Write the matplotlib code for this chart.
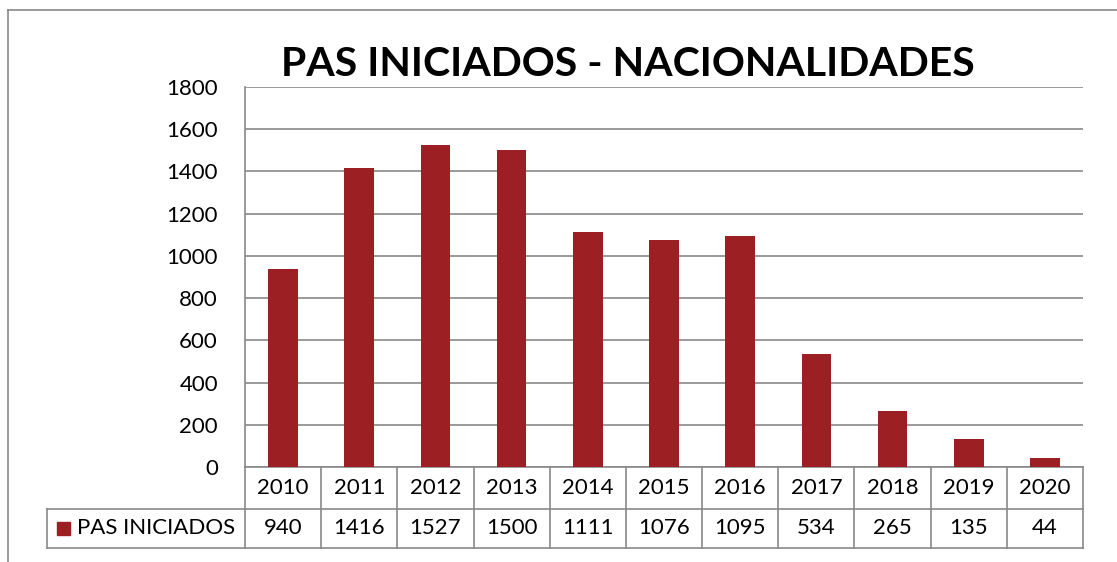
import matplotlib.pyplot as plt
from matplotlib.patches import Rectangle
from matplotlib.lines import Line2D

anos = ['2010', '2011', '2012', '2013', '2014', '2015', '2016', '2017', '2018', '2019', '2020']
pas_iniciados = [940, 1416, 1527, 1500, 1111, 1076, 1095, 534, 265, 135, 44]
serie = 'PAS INICIADOS'
titulo = 'PAS INICIADOS - NACIONALIDADES'

rojo = '#9C1F24'
gris = '#898989'
plt.rcParams['font.family'] = ['Lato', 'DejaVu Sans']

fig = plt.figure(figsize=(11.17, 5.62), dpi=100)
W, H = 1117, 562

def fx(px):
    return px / W

def fy(py):
    return 1 - py / H

# marco exterior (solo arriba e izquierda visibles)
fig.add_artist(Line2D([fx(8), 1], [fy(10), fy(10)], color=gris, lw=1.2))
fig.add_artist(Line2D([fx(8), fx(8)], [fy(10), 0], color=gris, lw=1.2))

x0, x1, y0, y1 = 245, 1083, 87, 467
ax = fig.add_axes([fx(x0), fy(y1), fx(x1 - x0), (y1 - y0) / H])

x = range(len(anos))
ax.bar(x, pas_iniciados, width=0.39, color=rojo, zorder=3)
ax.set_xlim(-0.5, len(anos) - 0.5)
ax.set_ylim(0, 1800)
ax.set_yticks(range(0, 1801, 200))
ax.yaxis.grid(True, color=gris, lw=1.2, zorder=0)
ax.tick_params(axis='y', length=0, pad=19.5, labelsize=16)
ax.set_xticks([])
for s in ['top', 'right']:
    ax.spines[s].set_visible(False)
for s in ['left', 'bottom']:
    ax.spines[s].set_color(gris)
    ax.spines[s].set_linewidth(1.2)

fig.text(fx(628), fy(65), titulo, ha='center', va='center',
         fontsize=29.5, fontweight='bold')

# tabla de datos
colw = (x1 - x0) / len(anos)
r1, r2 = 509, 548
lin = dict(color=gris, lw=1.2)
fig.add_artist(Line2D([fx(47), fx(x1)], [fy(r1), fy(r1)], **lin))
fig.add_artist(Line2D([fx(47), fx(x1)], [fy(r2), fy(r2)], **lin))
fig.add_artist(Line2D([fx(47), fx(47)], [fy(r1), fy(r2)], **lin))
for i in range(len(anos) + 1):
    xc = x0 + i * colw
    fig.add_artist(Line2D([fx(xc), fx(xc)], [fy(y1), fy(r2)], **lin))
for i, (a, v) in enumerate(zip(anos, pas_iniciados)):
    xc = x0 + (i + 0.5) * colw
    fig.text(fx(xc), fy((y1 + r1) / 2), a, ha='center', va='center', fontsize=16)
    fig.text(fx(xc), fy((r1 + r2) / 2), str(v), ha='center', va='center', fontsize=16)

fig.add_artist(Rectangle((fx(57), fy(535)), fx(13), 13 / H, color=rojo))
fig.text(fx(77), fy((r1 + r2) / 2), serie, ha='left', va='center', fontsize=16)

fig.savefig('out.png', dpi=100)
